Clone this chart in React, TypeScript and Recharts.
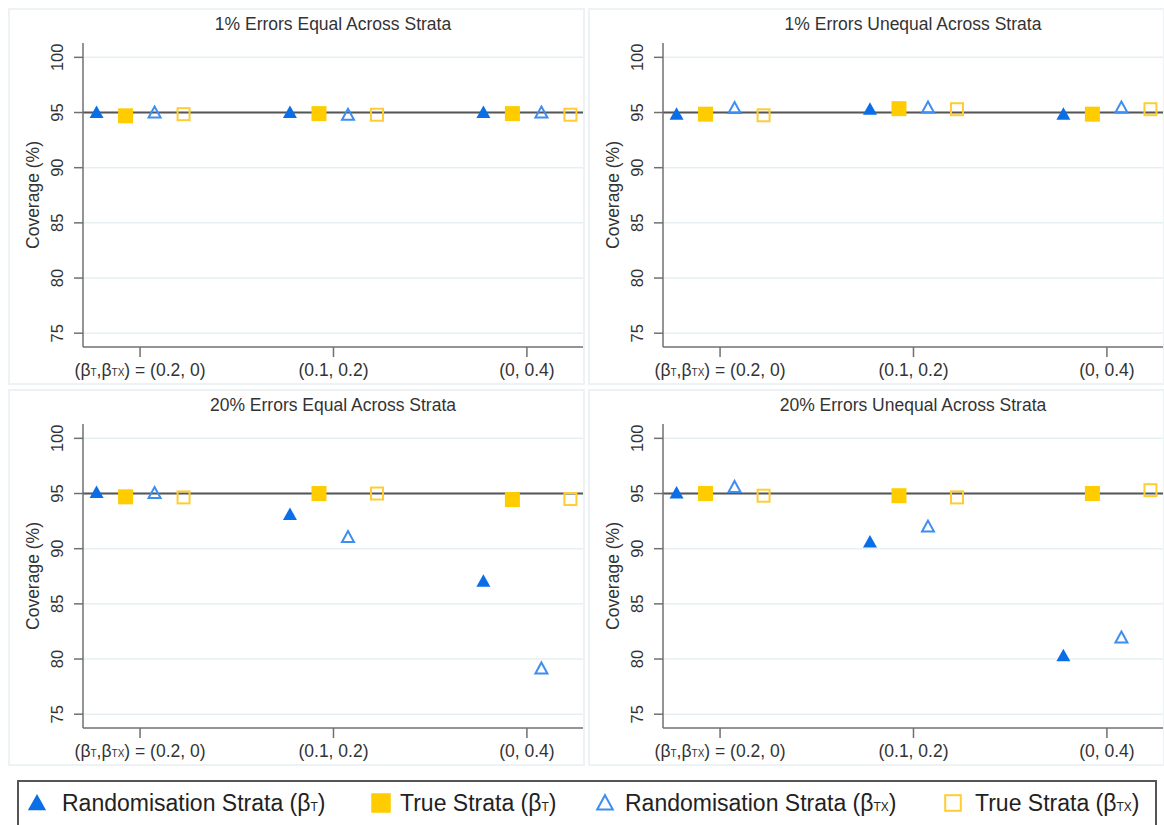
import React from "react";
import {
  ScatterChart,
  Scatter,
  XAxis,
  YAxis,
  CartesianGrid,
  ReferenceLine,
  Label,
} from "recharts";

// categories on the x axis (one group per coefficient setting)
const xTickValues = [1, 2, 3];
const xTickLabels = [
  [
    { t: "(β" },
    { t: "T", small: true },
    { t: ",β" },
    { t: "TX", small: true },
    { t: ") = (0.2, 0)" },
  ],
  [{ t: "(0.1, 0.2)" }],
  [{ t: "(0, 0.4)" }],
];
const yTicks = [75, 80, 85, 90, 95, 100];

const panelTitles = [
  "1% Errors Equal Across Strata",
  "1% Errors Unequal Across Strata",
  "20% Errors Equal Across Strata",
  "20% Errors Unequal Across Strata",
];

// 1% errors, equal across strata
const eq1RandT = [95.0, 95.0, 95.0];
const eq1TrueT = [94.7, 94.9, 94.9];
const eq1RandTX = [95.0, 94.8, 95.0];
const eq1TrueTX = [94.85, 94.8, 94.8];

// 1% errors, unequal across strata
const uneq1RandT = [94.85, 95.3, 94.85];
const uneq1TrueT = [94.85, 95.35, 94.85];
const uneq1RandTX = [95.4, 95.45, 95.45];
const uneq1TrueTX = [94.75, 95.3, 95.3];

// 20% errors, equal across strata
const eq20RandT = [95.1, 93.1, 87.05];
const eq20TrueT = [94.7, 95.0, 94.45];
const eq20RandTX = [95.05, 91.05, 79.15];
const eq20TrueTX = [94.65, 95.0, 94.5];

// 20% errors, unequal across strata
const uneq20RandT = [95.05, 90.6, 80.3];
const uneq20TrueT = [95.0, 94.8, 95.0];
const uneq20RandTX = [95.6, 92.0, 81.95];
const uneq20TrueTX = [94.8, 94.65, 95.3];

const seriesNames = [
  ["Randomisation Strata (β", "T", ")"],
  ["True Strata (β", "T", ")"],
  ["Randomisation Strata (β", "TX", ")"],
  ["True Strata (β", "TX", ")"],
];

const panels = [
  [eq1RandT, eq1TrueT, eq1RandTX, eq1TrueTX],
  [uneq1RandT, uneq1TrueT, uneq1RandTX, uneq1TrueTX],
  [eq20RandT, eq20TrueT, eq20RandTX, eq20TrueTX],
  [uneq20RandT, uneq20TrueT, uneq20RandTX, uneq20TrueTX],
];

const BLUE = "#0a6ee8";
const LIGHT_BLUE = "#3d8ef0";
const GOLD = "#ffcc00";
const GOLD_LINE = "#ffcd33";
const TEXT = "#333";
const AXIS = "#707070";

// marker shapes (k = scale factor, used bigger in the legend)
const FilledTri = (p: any) => {
  const k = p.k || 1;
  return (
    <path
      d={`M${p.cx},${p.cy - 7 * k}L${p.cx + 7 * k},${p.cy + 5.5 * k}L${p.cx - 7 * k},${p.cy + 5.5 * k}Z`}
      fill={BLUE}
    />
  );
};
const FilledSq = (p: any) => {
  const k = p.k || 1;
  return <rect x={p.cx - 7.5 * k} y={p.cy - 7.5 * k} width={15 * k} height={15 * k} fill={GOLD} />;
};
const HollowTri = (p: any) => {
  const k = p.k || 1;
  return (
    <path
      d={`M${p.cx},${p.cy - 6 * k}L${p.cx + 6 * k},${p.cy + 5 * k}L${p.cx - 6 * k},${p.cy + 5 * k}Z`}
      fill="none"
      stroke={LIGHT_BLUE}
      strokeWidth={2}
    />
  );
};
const HollowSq = (p: any) => {
  const k = p.k || 1;
  return (
    <rect
      x={p.cx - 6 * k}
      y={p.cy - 6 * k}
      width={12 * k}
      height={12 * k}
      fill="none"
      stroke={GOLD_LINE}
      strokeWidth={2}
    />
  );
};
const shapes = [FilledTri, FilledSq, HollowTri, HollowSq];

const renderXTick = ({ x, y, payload }: any) => {
  const parts = xTickLabels[xTickValues.indexOf(payload.value)] || [];
  return (
    <text x={x} y={y + 17} textAnchor="middle" fontSize={17.5} fill={TEXT}>
      {parts.map((s, i) => (
        <tspan key={i} fontSize={s.small ? 10 : 17.5}>
          {s.t}
        </tspan>
      ))}
    </text>
  );
};

// y tick numbers are drawn rotated, as in the original figure
const renderYTick = ({ x, y, payload }: any) => (
  <g transform={`translate(${x - 9}, ${y}) rotate(-90)`}>
    <text x={0} y={0} textAnchor="middle" fontSize={16.5} fill={TEXT}>
      {payload.value}
    </text>
  </g>
);

const YLabel = ({ viewBox }: any) => {
  const cx = viewBox.x + 31;
  const cy = viewBox.y + viewBox.height / 2;
  return (
    <text x={cx} y={cy} transform={`rotate(-90, ${cx}, ${cy})`} textAnchor="middle" fontSize={17.5} fill={TEXT}>
      Coverage (%)
    </text>
  );
};

function Panel({ title, series, left, top }: { title: string; series: number[][]; left: number; top: number }) {
  return (
    <div
      style={{
        position: "absolute",
        left,
        top,
        width: 577,
        height: 377,
        boxSizing: "border-box",
        border: "2px solid #edf2f4",
        background: "#fff",
      }}
    >
      <div
        style={{
          position: "absolute",
          left: 73,
          top: 3,
          width: 500,
          textAlign: "center",
          fontSize: 17.5,
          lineHeight: "22px",
          color: TEXT,
        }}
      >
        {title}
      </div>
      <div style={{ position: "absolute", left: -2, top: -2 }}>
        <ScatterChart width={577} height={377} margin={{ top: 35, right: 2, bottom: 8, left: 0 }}>
          <CartesianGrid horizontal vertical={false} horizontalValues={yTicks} stroke="#e6eff2" strokeWidth={1.5} />
          <XAxis
            type="number"
            dataKey="x"
            domain={[0.705, 3.29]}
            ticks={xTickValues}
            tick={renderXTick}
            tickSize={10}
            height={30}
            stroke={AXIS}
            strokeWidth={1.5}
            allowDataOverflow
          />
          <YAxis
            type="number"
            dataKey="y"
            domain={[73.75, 101.3]}
            ticks={yTicks}
            tick={renderYTick}
            tickSize={9}
            width={75}
            stroke={AXIS}
            strokeWidth={1.5}
            allowDataOverflow
          >
            <Label content={<YLabel />} />
          </YAxis>
          <ReferenceLine y={95} stroke="#555" strokeWidth={2} />
          {series.map((vals, s) => (
            <Scatter
              key={s}
              name={seriesNames[s].join("")}
              data={vals.map((v, i) => ({ x: xTickValues[i] + (s - 1.5) * 0.15, y: v }))}
              shape={shapes[s]}
              isAnimationActive={false}
            />
          ))}
        </ScatterChart>
      </div>
    </div>
  );
}

const LegendMarker = ({ s }: { s: number }) => {
  const Shape = shapes[s];
  return (
    <svg width={24} height={24} style={{ display: "block" }}>
      <Shape cx={12} cy={12} k={1.3} />
    </svg>
  );
};

export default function App() {
  const positions = [
    [8, 8],
    [588, 8],
    [8, 389],
    [588, 389],
  ];
  const legendX = [[25, 62], [369, 400], [593, 625], [941, 975]];
  return (
    <div
      style={{
        position: "absolute",
        left: 0,
        top: 0,
        width: 1164,
        height: 825,
        overflow: "hidden",
        background: "#fff",
        fontFamily: "'Liberation Sans', Arial, sans-serif",
      }}
    >
      {panels.map((series, k) => (
        <Panel key={k} title={panelTitles[k]} series={series} left={positions[k][0]} top={positions[k][1]} />
      ))}
      <div
        style={{
          position: "absolute",
          left: 17,
          top: 780,
          width: 1140,
          height: 60,
          boxSizing: "border-box",
          border: "2px solid #555",
        }}
      />
      {seriesNames.map((n, s) => (
        <React.Fragment key={s}>
          <div style={{ position: "absolute", left: legendX[s][0], top: 791 }}>
            <LegendMarker s={s} />
          </div>
          <div
            style={{
              position: "absolute",
              left: legendX[s][1],
              top: 789,
              fontSize: 23,
              lineHeight: "28px",
              color: "#222",
              whiteSpace: "nowrap",
            }}
          >
            {n[0]}
            <span style={{ fontSize: 12 }}>{n[1]}</span>
            {n[2]}
          </div>
        </React.Fragment>
      ))}
    </div>
  );
}
